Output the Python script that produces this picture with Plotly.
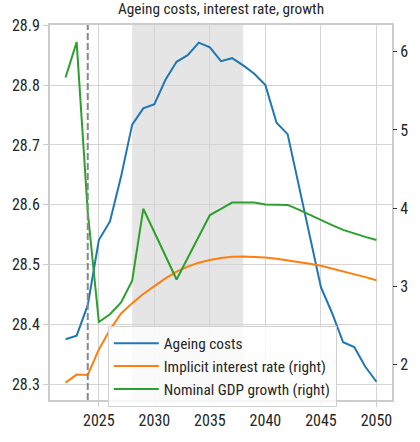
import plotly.graph_objects as go

years = list(range(2022, 2051))
ageing_costs = [28.375, 28.381, 28.432, 28.541, 28.572, 28.647, 28.734, 28.761, 28.768,
                28.809, 28.839, 28.850, 28.871, 28.863, 28.840, 28.845, 28.833, 28.819,
                28.800, 28.737, 28.718, 28.632, 28.546, 28.462, 28.419, 28.370, 28.362,
                28.329, 28.304]
interest_rate = [1.764, 1.867, 1.862, 2.19, 2.44, 2.65, 2.78, 2.90, 3.00, 3.10, 3.185,
                 3.25, 3.30, 3.335, 3.36, 3.375, 3.38, 3.375, 3.365, 3.35, 3.33, 3.31,
                 3.285, 3.26, 3.225, 3.19, 3.155, 3.115, 3.075]
gdp_growth = [5.67, 6.124, 3.95, 2.54, 2.64, 2.79, 3.07, 3.99, 3.69, 3.39, 3.085, 3.36,
              3.63, 3.91, 3.99, 4.07, 4.07, 4.07, 4.045, 4.045, 4.04, 3.98, 3.91, 3.85,
              3.78, 3.72, 3.67, 3.63, 3.59]
names = ["Ageing costs", "Implicit interest rate (right)", "Nominal GDP growth (right)"]
colors = ["#1f77b4", "#ff7f0e", "#2ca02c"]
title = "Ageing costs, interest rate, growth"
x_ticks = [2025, 2030, 2035, 2040, 2045, 2050]
left_ticks = [28.3, 28.4, 28.5, 28.6, 28.7, 28.8, 28.9]
right_ticks = [2, 3, 4, 5, 6]
shade_range = [2028, 2038]
vline_year = 2024

FONT = "Liberation Sans Narrow, Roboto Condensed, DejaVu Sans Condensed, Roboto, sans-serif"
TXT = "#262626"
GRID = "#d4d4d4"

fig = go.Figure()
fig.add_trace(go.Scatter(x=years, y=ageing_costs, name=names[0], mode="lines",
                         line=dict(color=colors[0], width=2), yaxis="y"))
fig.add_trace(go.Scatter(x=years, y=interest_rate, name=names[1], mode="lines",
                         line=dict(color=colors[1], width=2), yaxis="y2"))
fig.add_trace(go.Scatter(x=years, y=gdp_growth, name=names[2], mode="lines",
                         line=dict(color=colors[2], width=2), yaxis="y2"))

fig.add_shape(type="rect", xref="x", yref="paper", x0=shade_range[0], x1=shade_range[1],
              y0=0, y1=1, fillcolor="#e5e5e5", line_width=0, layer="below")
fig.add_shape(type="line", xref="x", yref="paper", x0=vline_year, x1=vline_year,
              y0=0, y1=1, line=dict(color="#888888", width=2, dash="7px,3px"), layer="above")

fig.update_layout(
    width=420, height=442,
    margin=dict(l=49, r=21, t=25, b=29),
    paper_bgcolor="white", plot_bgcolor="white",
    font=dict(family=FONT, size=16, color=TXT),
    title=dict(text=title, x=0.5, xref="paper", xanchor="center", y=1, yref="container",
               yanchor="top", pad=dict(t=3), font=dict(size=15.3, color=TXT)),
    showlegend=True,
    legend=dict(x=0.169, y=0.198, xanchor="left", yanchor="top",
                bgcolor="rgba(255,255,255,0.8)", bordercolor="#d0d0d0", borderwidth=1,
                font=dict(size=15.3, color=TXT), tracegroupgap=0, itemwidth=45),
    xaxis=dict(range=[2020.6, 2051.4], tickvals=x_ticks, showgrid=True, gridcolor=GRID,
               gridwidth=1, zeroline=False, showline=True, linecolor="#cccccc", linewidth=2,
               mirror=True, ticks="outside", ticklen=5, tickcolor="#cccccc"),
    yaxis=dict(range=[28.2735, 28.9005], tickvals=left_ticks,
               ticktext=[f"{v:.1f}" for v in left_ticks], showgrid=True, gridcolor=GRID,
               gridwidth=1, zeroline=False, showline=True, linecolor="#cccccc", linewidth=2,
               mirror=True, ticks="outside", ticklen=5, tickcolor="#cccccc"),
    yaxis2=dict(range=[1.542, 6.343], tickvals=right_ticks, overlaying="y", side="right",
                showgrid=False, zeroline=False, showline=False, ticks="outside", ticklen=4,
                tickcolor="#333333", tickwidth=1),
)

fig.write_html("out.html", config={"displayModeBar": False},
               post_script="document.body.style.margin='0';document.documentElement.style.overflow='hidden';")
